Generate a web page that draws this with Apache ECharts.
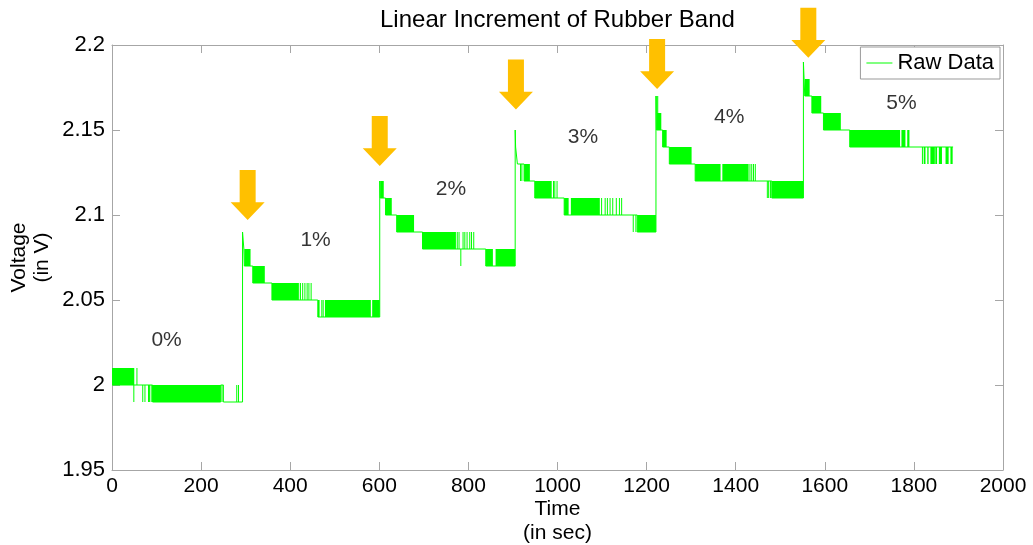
<!DOCTYPE html>
<html><head><meta charset="utf-8">
<script src="https://cdn.jsdelivr.net/npm/echarts@6/dist/echarts.min.js"></script>
<style>html,body{margin:0;padding:0;background:#fff}#c{width:1033px;height:545px}</style>
</head><body><div id="c"></div>
<script>
// ---- data ----
// corner points of the level trajectory [time s, volts]
const rawPath = [
  [0,2.00],[91,2.00],[91,1.99],[244,1.99],[244,2.00],[250,2.00],[250,1.99],[293,1.99],
  [293,2.09],[296,2.09],[296,2.08],[297,2.08],[297,2.07],[316,2.07],[316,2.06],[359,2.06],[359,2.05],
  [462,2.05],[462,2.04],[601,2.04],
  [601,2.12],[602,2.12],[602,2.11],[614,2.11],[614,2.10],[639,2.10],[639,2.09],[697,2.09],[697,2.08],
  [839,2.08],[839,2.07],[905,2.07],
  [905,2.15],[906,2.15],[906,2.14],[910,2.14],[910,2.13],[925,2.13],[925,2.12],[949,2.12],[949,2.11],
  [1015,2.11],[1015,2.10],[1179,2.10],[1179,2.09],[1221,2.09],
  [1221,2.17],[1222,2.17],[1222,2.15],[1236,2.15],[1236,2.14],[1251,2.14],[1251,2.13],[1309,2.13],[1309,2.12],
  [1481,2.12],[1481,2.11],[1552,2.11],
  [1552,2.19],[1555,2.19],[1555,2.17],[1571,2.17],[1571,2.16],[1597,2.16],[1597,2.15],[1656,2.15],[1656,2.14],
  [1888,2.14]
];
// dense toggling regions [tStart, tEnd, lowLevel, highLevel]
const toggleBlocks = [
  [0,50,2.00,2.01],[91,244,1.99,2.00],
  [297,311,2.07,2.08],[316,343,2.06,2.07],[359,418,2.05,2.06],[462,466,2.04,2.05],[478,581,2.04,2.05],[584,601,2.04,2.05],
  [602,610,2.11,2.12],[614,628,2.10,2.11],[639,678,2.09,2.10],[697,772,2.08,2.09],[839,855,2.07,2.08],[861,905,2.07,2.08],
  [925,938,2.12,2.13],[949,987,2.11,2.12],[1015,1025,2.10,2.11],[1030,1095,2.10,2.11],[1179,1221,2.09,2.10],
  [1222,1233,2.15,2.16],[1236,1245,2.14,2.15],[1251,1301,2.13,2.14],[1309,1366,2.12,2.13],[1370,1429,2.12,2.13],[1481,1552,2.11,2.12],
  [1555,1566,2.17,2.18],[1571,1592,2.16,2.17],[1597,1636,2.15,2.16],[1656,1769,2.14,2.15],[1772,1781,2.14,2.15],[1785,1790,2.14,2.15],
  [1818,1819,2.13,2.14],[1822,1826,2.13,2.14],[1830,1833,2.13,2.14],[1837,1847,2.13,2.14],[1848,1852,2.13,2.14],
  [1856,1863,2.13,2.14],[1871,1878,2.13,2.14],[1882,1887,2.13,2.14]
];
// isolated single-sample excursions [time, fromLevel, toLevel]
const spikes = [
  [49,2.00,1.99],[56,2.00,2.01],[69,2.00,1.99],[74,2.00,1.99],[82,2.00,1.99],[84,2.00,1.99],[88,2.00,1.99],
  [247,2.00,1.99],[280,1.99,2.00],[284,1.99,2.00],
  [419,2.05,2.06],[423,2.05,2.06],[428,2.05,2.06],[433,2.05,2.06],[438,2.05,2.06],[442,2.05,2.06],[447,2.05,2.06],
  [471,2.05,2.04],[474,2.05,2.04],
  [775,2.08,2.09],[779,2.08,2.09],[783,2.08,2.07],[788,2.08,2.09],[792,2.08,2.09],[797,2.08,2.09],[803,2.08,2.09],[807,2.08,2.09],[812,2.08,2.09],
  [917,2.13,2.12],[920,2.13,2.12],[991,2.11,2.12],[994,2.11,2.12],[999,2.11,2.12],
  [1099,2.10,2.11],[1107,2.10,2.11],[1112,2.10,2.11],[1118,2.10,2.11],[1124,2.10,2.11],[1132,2.10,2.11],[1139,2.10,2.11],[1144,2.10,2.11],
  [1170,2.10,2.09],[1176,2.10,2.09],
  [1223,2.16,2.17],[1225,2.16,2.17],[1432,2.12,2.13],[1436,2.12,2.13],[1440,2.12,2.13],[1444,2.12,2.13],
  [1471,2.12,2.11],[1474,2.12,2.11],[1478,2.12,2.11]
];
// annotations
const arrowT = [304.5, 601, 906.7, 1223.6, 1563];
const arrowV = [2.1118, 2.1435, 2.1768, 2.1888, 2.2072];
const pctLabels = ['0%','1%','2%','3%','4%','5%'];
const pctT = [122.5, 457, 760.7, 1057, 1385.4, 1772];
const pctV = [2.0265, 2.0853, 2.1153, 2.1459, 2.1576, 2.1659];
// axes
const xTicks = {min:0, max:2000, interval:200};
const yTicks = {min:1.95, max:2.2, interval:0.05};

const FONT = 'Liberation Sans, Arial, Helvetica, sans-serif';
const GREEN = '#00ff00';
const AX = '#a6a6a6';
const chart = echarts.init(document.getElementById('c'), null, {renderer:'canvas'});

function axisCommon(extra){
  return Object.assign({
    type:'value', splitLine:{show:false},
    axisLine:{show:true, onZero:false, lineStyle:{color:AX, width:1}},
    axisTick:{show:true, inside:true, length:8, lineStyle:{color:AX}},
  }, extra);
}
const yFmt = v => String(+v.toFixed(2));
const xFmt = v => String(Math.round(v));

chart.setOption({
  animation:false,
  backgroundColor:'#fff',
  title:{text:'Linear Increment of Rubber Band', left:375, top:3,
    textStyle:{fontFamily:FONT, fontSize:24, fontWeight:'normal', color:'#000'}},
  grid:{left:112, right:30, top:45, bottom:75, containLabel:false, outerBoundsMode:'none'},
  legend:{data:['Raw Data'], right:33, top:47, orient:'vertical',
    icon:'path://M0,0 L26,0 L26,1 L0,1 Z',
    padding:[5,6,5,6], itemWidth:26, itemHeight:1, borderColor:'#999', borderWidth:1,
    backgroundColor:'#fff',
    textStyle:{fontFamily:FONT, fontSize:22, color:'#000', lineHeight:22}},
  xAxis:[
    axisCommon({position:'bottom', min:xTicks.min, max:xTicks.max, interval:xTicks.interval,
      axisLabel:{fontFamily:FONT, fontSize:21, color:'#000', margin:6, formatter:xFmt},
      name:'Time\n(in sec)', nameLocation:'middle', nameGap:27, nameMoveOverlap:false,
      nameTextStyle:{fontFamily:FONT, fontSize:21, color:'#000', lineHeight:24}}),
    axisCommon({position:'top', min:xTicks.min, max:xTicks.max, interval:xTicks.interval,
      axisLabel:{show:false}})
  ],
  yAxis:[
    axisCommon({position:'left', min:yTicks.min, max:yTicks.max, interval:yTicks.interval,
      axisLabel:{fontFamily:FONT, fontSize:22, color:'#000', margin:7, formatter:yFmt},
      name:'Voltage\n(in V)', nameLocation:'middle', nameRotate:90, nameGap:58, nameMoveOverlap:false,
      nameTextStyle:{fontFamily:FONT, fontSize:21, color:'#000', lineHeight:23}}),
    axisCommon({position:'right', min:yTicks.min, max:yTicks.max, interval:yTicks.interval,
      axisLabel:{show:false}})
  ],
  series:[
    {
      name:'Raw Data', type:'line', data:rawPath, symbol:'none', showSymbol:false,
      lineStyle:{color:GREEN, width:1}, itemStyle:{color:GREEN}, z:3
    },
    {
      name:'blocks', type:'custom', data:toggleBlocks, encode:{x:[0,1], y:[2,3]}, z:2,
      renderItem:function(params, api){
        const p0 = api.coord([api.value(0), api.value(3)]);
        const p1 = api.coord([api.value(1), api.value(2)]);
        return {type:'rect', shape:{x:p0[0], y:p0[1], width:Math.max(p1[0]-p0[0],1), height:p1[1]-p0[1]},
          style:{fill:GREEN}};
      }
    },
    {
      name:'spikes', type:'custom', data:spikes, encode:{x:0, y:[1,2]}, z:2,
      renderItem:function(params, api){
        const a = api.coord([api.value(0), api.value(1)]);
        const b = api.coord([api.value(0), api.value(2)]);
        return {type:'line', shape:{x1:a[0], y1:a[1], x2:b[0], y2:b[1]},
          style:{stroke:GREEN, lineWidth:1}};
      }
    },
    {
      name:'arrows', type:'scatter', clip:false, z:5, silent:true,
      data:arrowT.map((t,i)=>[t, arrowV[i]]),
      symbol:'path://M9,0 L25,0 L25,31 L34,31 L17,48 L0,31 L9,31 Z',
      symbolSize:[34,50], itemStyle:{color:'#FFC000', opacity:1}
    },
    {
      name:'pct', type:'scatter', z:5, silent:true, symbolSize:0,
      data:pctT.map((t,i)=>({value:[t, pctV[i]], name:pctLabels[i]})),
      label:{show:true, position:'inside', formatter:p=>p.name,
        fontFamily:FONT, fontSize:21, color:'#000'}
    }
  ]
});
</script>
</body></html>
